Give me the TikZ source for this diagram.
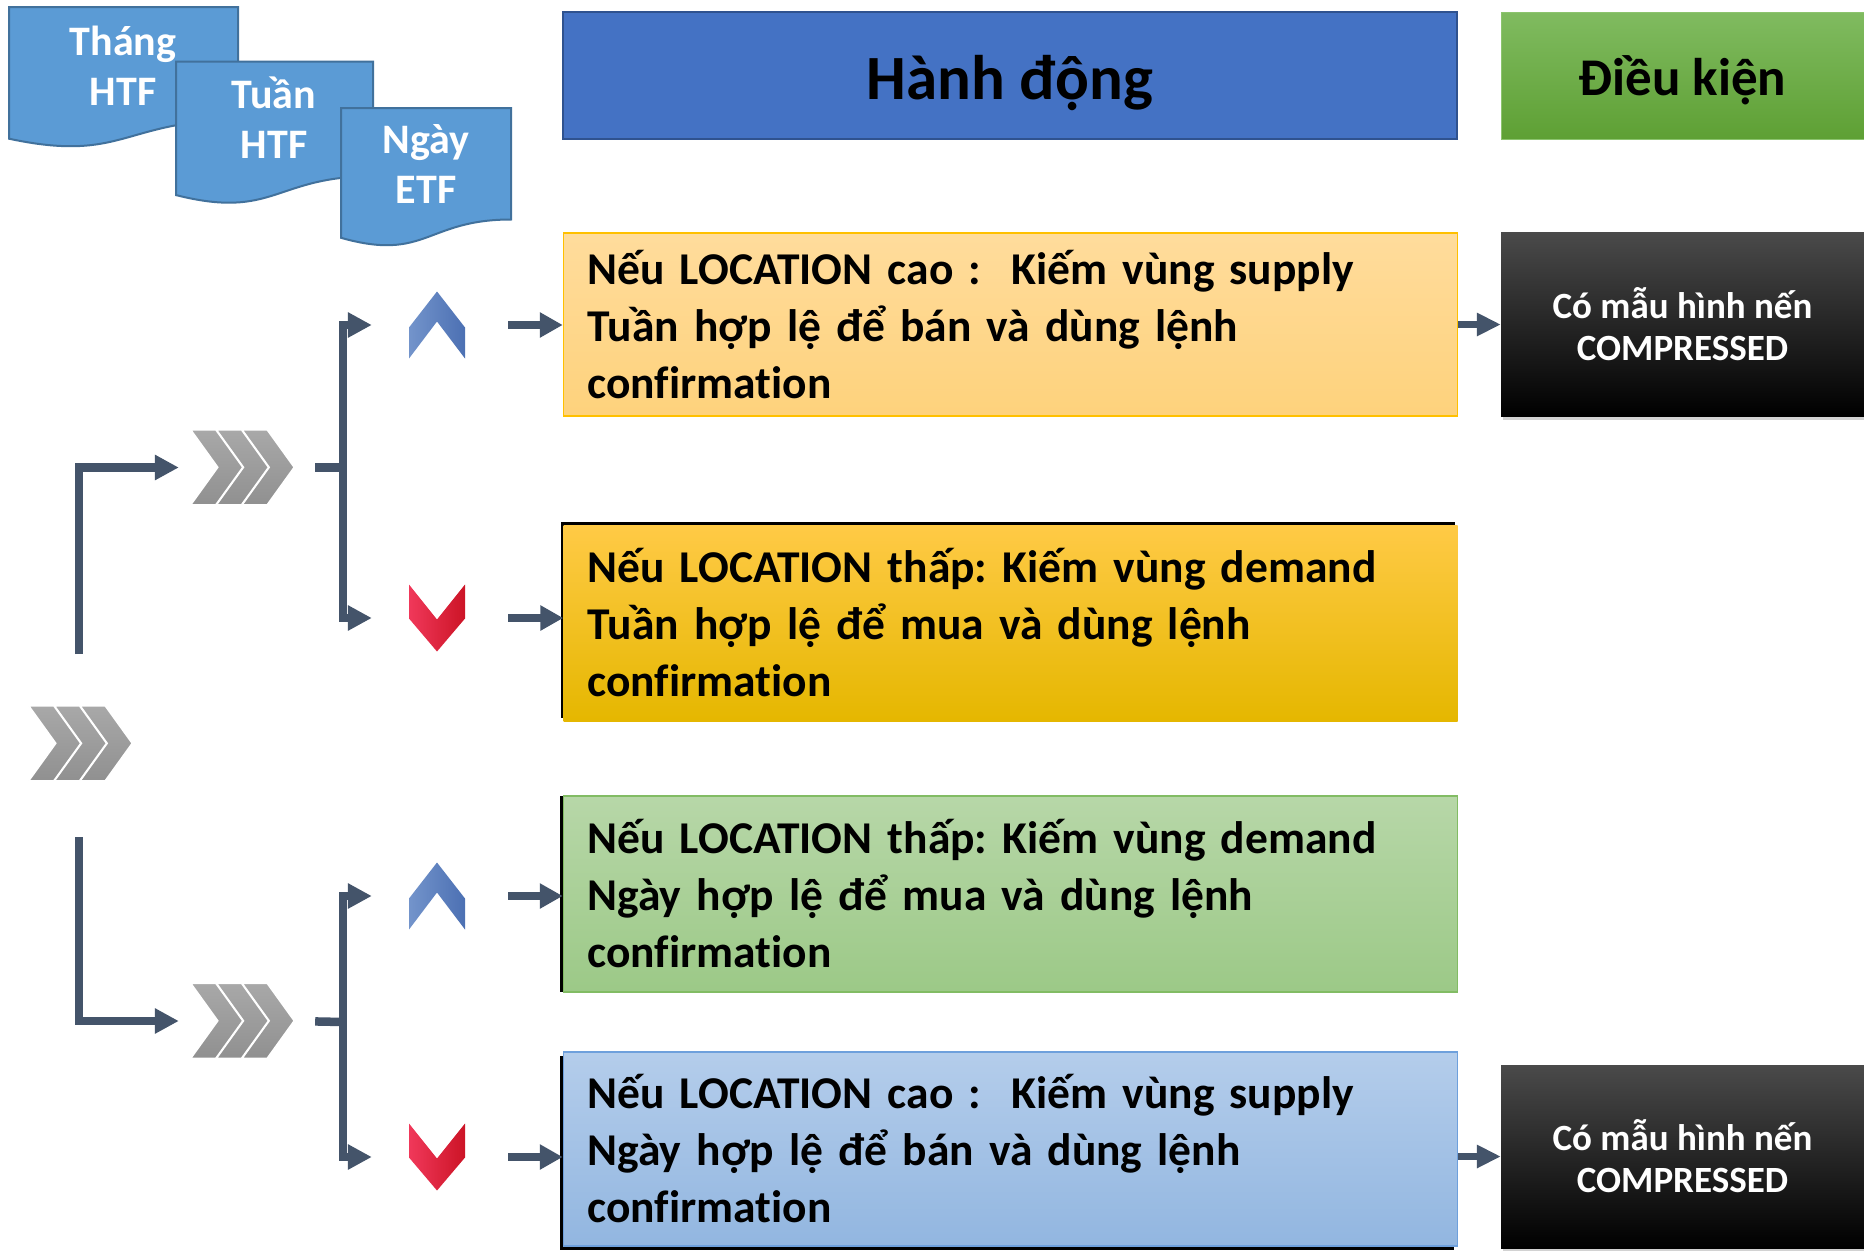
\documentclass[tikz,border=0pt]{standalone}
\usepackage{fontspec}
\setmainfont{Carlito}[Ligatures=NoCommon]
\usetikzlibrary{arrows.meta,shadows}
\definecolor{connc}{HTML}{44546A}
\definecolor{docfill}{HTML}{5B9BD5}
\definecolor{docline}{HTML}{41719C}
\definecolor{hblue}{HTML}{4472C4}
\definecolor{hblueline}{HTML}{2F528F}
\definecolor{HTMLgray}{HTML}{4A4A4A}
\tikzset{
  linkline/.style={draw=connc, line width=8.5pt},
  linkarrow/.style={linkline, -{Triangle[length=24pt,width=24pt]}},
  boxarrow/.style={draw=connc, line width=7pt, -{Triangle[length=24pt,width=22pt]}},
  docshape/.style={fill=docfill, draw=docline, line width=2pt},
  doctext/.style={text=white, align=center, font=\fontsize{42}{50}\selectfont\bfseries},
  actbox/.style={minimum width=894pt, inner xsep=24pt, inner ysep=0pt, text width=846pt, align=left,
    font=\fontsize{45.5}{57}\selectfont\bfseries\frenchspacing},
  condbox/.style={minimum width=363pt, minimum height=184pt, inner sep=0pt, align=center, text=white,
    top color=HTMLgray, middle color=black, bottom color=black,
    font=\fontsize{37}{42}\selectfont\bfseries},
  marknode/.style={inner sep=0pt, minimum width=56pt, minimum height=67pt},
  chevnode/.style={inner sep=0pt, minimum width=103pt, minimum height=75pt},
  chevgray/.style={top color=gray!68, bottom color=gray!55!black!60!white, draw=white, line width=1.5pt},
}
\begin{document}
\begin{tikzpicture}[x=1pt,y=-1pt]
\useasboundingbox (0,0) rectangle (1864,1253);
\fill[white] (0,0) rectangle (1864,1253);

% document shapes
\filldraw[docshape] (9,7) -- (238,7) -- (238,120.1) .. controls (123.5,120.1) and (123.5,163.2) .. (9,138.7) -- cycle;
\node[doctext] (thang) at (123,66) {Tháng\\HTF};
\filldraw[docshape] (176,61.5) -- (373,61.5) -- (373,176.2) .. controls (274.5,176.2) and (274.5,219.9) .. (176,195.1) -- cycle;
\node[doctext] (tuan) at (274,118) {Tuần\\HTF};
\filldraw[docshape] (341,108) -- (511,108) -- (511,219.5) .. controls (426,219.5) and (426,261.9) .. (341,237.8) -- cycle;
\node[doctext] (ngay) at (426,164) {Ngày\\ETF};

% headers
\node[minimum width=894pt, minimum height=127pt, fill=hblue, draw=hblueline, line width=2pt,
  text height=47pt, text depth=0pt,
  font=\fontsize{63}{70}\selectfont\bfseries] (h1) at (1010,75.5) {Hành động};
\node[minimum width=363pt, minimum height=127pt, top color={rgb,255:red,128;green,187;blue,96},
  bottom color={rgb,255:red,94;green,160;blue,52}, draw={rgb,255:red,140;green,196;blue,110}, line width=1pt,
  text height=39pt, text depth=0pt,
  font=\fontsize{53}{60}\selectfont\bfseries] (h2) at (1682.5,75.5) {Điều kiện};

% action boxes
\node[actbox, minimum height=183pt, top color={rgb,255:red,255;green,220;blue,156},
  bottom color={rgb,255:red,254;green,210;blue,124}, draw={rgb,255:red,255;green,192;blue,0}, line width=1.5pt]
  (box1) at (1010.5,324.5) {Nếu LOCATION cao :\ \ Kiếm vùng supply\\Tuần hợp lệ để bán và dùng lệnh\\confirmation};
\node[actbox, minimum height=196pt, top color={rgb,255:red,255;green,202;blue,70},
  middle color={rgb,255:red,255;green,192;blue,0}, bottom color={rgb,255:red,229;green,183;blue,0},
  general shadow={fill=black, shadow xshift=-3pt, shadow yshift=3pt}]
  (box2) at (1010.5,623) {Nếu LOCATION thấp: Kiếm vùng demand\\Tuần hợp lệ để mua và dùng lệnh\\confirmation};
\node[actbox, minimum height=196pt, top color={rgb,255:red,183;green,215;blue,168},
  bottom color={rgb,255:red,156;green,201;blue,135}, draw={rgb,255:red,130;green,188;blue,100}, line width=1.5pt,
  general shadow={fill=black, shadow xshift=-4pt, shadow yshift=0pt}]
  (box3) at (1010.5,894) {Nếu LOCATION thấp: Kiếm vùng demand\\Ngày hợp lệ để mua và dùng lệnh\\confirmation};
\node[actbox, minimum height=194pt, top color={rgb,255:red,180;green,205;blue,235},
  bottom color={rgb,255:red,146;green,182;blue,224}, draw={rgb,255:red,110;green,160;blue,220}, line width=1.5pt,
  general shadow={fill=black, shadow xshift=-4pt, shadow yshift=-4pt}]
  (box4) at (1010.5,1149) {Nếu LOCATION cao :\ \ Kiếm vùng supply\\Ngày hợp lệ để bán và dùng lệnh\\confirmation};

% condition boxes
\node[condbox, drop shadow={opacity=0.35, shadow xshift=2pt, shadow yshift=-3pt}] (k1) at (1682.5,324.5) {Có mẫu hình nến\\COMPRESSED};
\node[condbox, minimum height=183pt, drop shadow={opacity=0.35, shadow xshift=2pt, shadow yshift=-3pt}] (k2) at (1682.5,1156.5) {Có mẫu hình nến\\COMPRESSED};

% gray chevrons
\node[chevnode] (c0) at (80.5,743.5) {};
\node[chevnode] (c1) at (242.5,467.5) {};
\node[chevnode] (c2) at (242.5,1021) {};
\foreach \n in {c0,c1,c2}{
  \begin{scope}[shift={(\n.north west)}]
    \foreach \dx in {51.4,25.7,0}{
      \shade[chevgray] (\dx,0) -- (\dx+25,0) -- (\dx+52,37.5) -- (\dx+25,75) -- (\dx,75) -- (\dx+27,37.5) -- cycle;
    }
  \end{scope}
}

% up / down marks
\node[marknode] (u1) at (437,325) {};
\node[marknode] (d1) at (437,618) {};
\node[marknode] (u2) at (437,896) {};
\node[marknode] (d2) at (437,1157) {};
\foreach \n in {u1,u2}{
  \shade[left color={rgb,255:red,115;green,148;blue,203}, right color={rgb,255:red,76;green,112;blue,179}, shift={(\n.center)}]
    (0,-33.5) -- (28,2.5) -- (28,33.5) -- (0,-3.5) -- (-28,33.5) -- (-28,2.5) -- cycle;
}
\foreach \n in {d1,d2}{
  \shade[left color={rgb,255:red,240;green,56;blue,90}, right color={rgb,255:red,204;green,20;blue,38}, shift={(\n.center)}]
    (-28,-33.5) -- (0,1.5) -- (28,-33.5) -- (28,0.5) -- (0,33.5) -- (-28,0.5) -- cycle;
}

% connectors
\coordinate (s1) at (79,654);
\coordinate (s2) at (79,837);
\draw[linkarrow, shorten >=12pt] (s1) |- (c1.west);
\draw[linkarrow, shorten >=12pt] (s2) |- (c2.west);

\coordinate (b1) at (343,467.5);
\coordinate (b2) at (343,1022);
\draw[linkline, shorten <=21pt] (c1.east) -- (b1);
\draw[linkline, shorten <=21pt] (c2.east) -- (b2);
\draw[linkarrow, shorten >=37pt] (b1) |- (u1.west);
\draw[linkarrow, shorten >=37pt] (b1) |- (d1.west);
\draw[linkarrow, shorten >=37pt] (b2) |- (u2.west);
\draw[linkarrow, shorten >=37pt] (b2) |- (d2.west);

\draw[linkarrow, -{Triangle[length=23pt,width=24pt]}, shorten <=43pt] (u1.east) -- (u1.east -| box1.west);
\draw[linkarrow, -{Triangle[length=23pt,width=24pt]}, shorten <=43pt] (d1.east) -- (d1.east -| box2.west);
\draw[linkarrow, -{Triangle[length=23pt,width=24pt]}, shorten <=43pt] (u2.east) -- (u2.east -| box3.west);
\draw[linkarrow, -{Triangle[length=23pt,width=24pt]}, shorten <=43pt] (d2.east) -- (d2.east -| box4.west);

\draw[boxarrow] (box1.east) -- (k1.west);
\draw[boxarrow] (box4.east |- k2.west) -- (k2.west);
\end{tikzpicture}
\end{document}
